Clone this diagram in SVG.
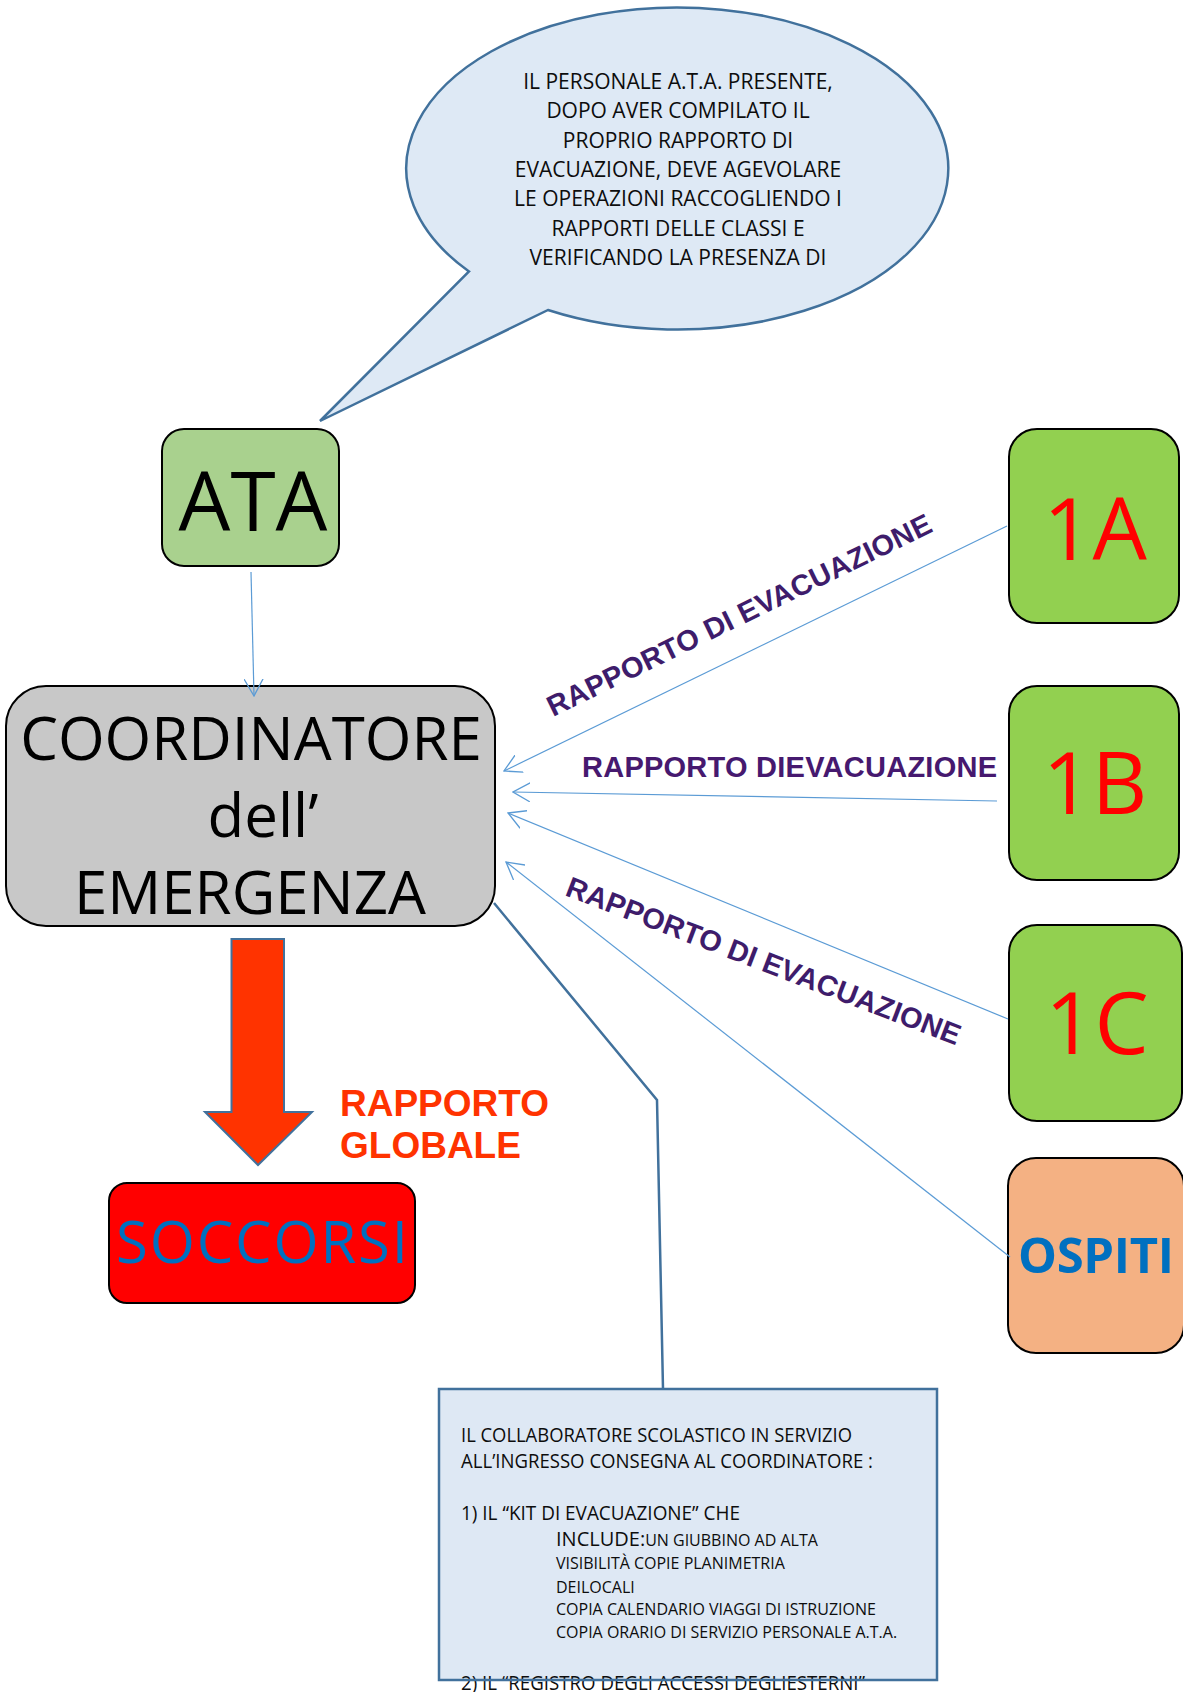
<svg xmlns="http://www.w3.org/2000/svg" width="1183" height="1692" viewBox="0 0 1183 1692">
<style>
.box{stroke:#000;stroke-width:2}
.cal{font-family:"Open Sans","Noto Sans",sans-serif}
.ari{font-family:"Liberation Sans",Arial,sans-serif;font-weight:bold}
.conn{fill:none;stroke:#5B9BD5;stroke-width:1.2;marker-end:url(#oa)}
.call{fill:none;stroke:#41719C;stroke-width:2.5}
.lbl{fill:#3E1C6B;font-size:29px}
</style>
<defs>
<marker id="oa" viewBox="0 0 18 20" refX="17" refY="10" markerWidth="18" markerHeight="20" markerUnits="userSpaceOnUse" orient="auto">
<path d="M0,0.5 L17,10 L0,19.5" fill="none" stroke="#5B9BD5" stroke-width="1.3"/>
</marker>
</defs>
<rect width="1183" height="1692" fill="#fff"/>

<g id="bubble">
<path d="M469,271.5 A271,161 0 1 1 548,310 L320,421 Z" fill="#DEE9F5" stroke="#41719C" stroke-width="2.5" stroke-linejoin="miter"/>
<g class="cal" font-size="21" fill="#0D0D0D" text-anchor="middle">
<text x="678" y="89">IL PERSONALE A.T.A. PRESENTE,</text>
<text x="678" y="118.3">DOPO AVER COMPILATO IL</text>
<text x="678" y="147.7">PROPRIO RAPPORTO DI</text>
<text x="678" y="177">EVACUAZIONE, DEVE AGEVOLARE</text>
<text x="678" y="206.3">LE OPERAZIONI RACCOGLIENDO I</text>
<text x="678" y="235.7">RAPPORTI DELLE CLASSI E</text>
<text x="678" y="265">VERIFICANDO LA PRESENZA DI</text>
</g>
</g>

<g id="ata">
<rect class="box" x="162" y="429" width="177" height="137" rx="22" fill="#A9D18E"/>
<text class="cal" x="253" y="531" font-size="82" text-anchor="middle" fill="#000">ATA</text>
</g>

<g id="coordinatore">
<rect class="box" x="6" y="686" width="489" height="240" rx="40" fill="#C8C8C8"/>
<g class="cal" font-size="60" fill="#000" text-anchor="middle">
<text x="251" y="760">COORDINATORE</text>
<text x="263" y="837">dell’</text>
<text x="250" y="914">EMERGENZA</text>
</g>
</g>

<g id="n1A">
<rect class="box" x="1009" y="429" width="170" height="194" rx="28" fill="#92D050"/>
<text class="cal" x="1095" y="560" font-size="86" text-anchor="middle" fill="#FF0000">1A</text>
</g>
<g id="n1B">
<rect class="box" x="1009" y="686" width="170" height="194" rx="28" fill="#92D050"/>
<text class="cal" x="1095" y="814" font-size="86" text-anchor="middle" fill="#FF0000">1B</text>
</g>
<g id="n1C">
<rect class="box" x="1009" y="925" width="173" height="196" rx="28" fill="#92D050"/>
<text class="cal" x="1097" y="1054" font-size="86" text-anchor="middle" fill="#FF0000">1C</text>
</g>
<g id="ospiti">
<rect class="box" x="1008" y="1158" width="176" height="195" rx="28" fill="#F4B183"/>
<text class="cal" x="1096" y="1273" font-size="49" font-weight="bold" text-anchor="middle" fill="#0070C0" textLength="156">OSPITI</text>
</g>

<g id="soccorsi">
<rect class="box" x="109" y="1183" width="306" height="120" rx="18" fill="#FF0000"/>
<text class="cal" x="262" y="1263" font-size="58" text-anchor="middle" fill="#0070C0" textLength="292">SOCCORSI</text>
</g>

<g id="freccia-rapporto-globale">
<path d="M231.5,939 L284,939 L284,1112 L312,1112 L258,1165 L205,1112 L231.5,1112 Z" fill="#FF3300" stroke="#41719C" stroke-width="2"/>
<g class="ari" font-size="37" fill="#FF3300">
<text x="340" y="1116">RAPPORTO</text>
<text x="340" y="1158">GLOBALE</text>
</g>
</g>

<g id="collaboratore">
<rect x="439" y="1389" width="498" height="291" fill="#DEE8F4"/>
<g class="cal" fill="#0D0D0D">
<text x="461" y="1442" font-size="20" textLength="391" lengthAdjust="spacingAndGlyphs">IL COLLABORATORE SCOLASTICO IN SERVIZIO</text>
<text x="461" y="1468" font-size="20" textLength="412" lengthAdjust="spacingAndGlyphs">ALL’INGRESSO CONSEGNA AL COORDINATORE :</text>
<text x="461" y="1520" font-size="20" textLength="279" lengthAdjust="spacingAndGlyphs">1) IL “KIT DI EVACUAZIONE” CHE</text>
<text x="556" y="1546" font-size="20">INCLUDE:<tspan font-size="16">UN GIUBBINO AD ALTA</tspan></text>
<text x="556" y="1569" font-size="16">VISIBILITÀ COPIE PLANIMETRIA</text>
<text x="556" y="1593" font-size="16">DEILOCALI</text>
<text x="556" y="1615" font-size="16">COPIA CALENDARIO VIAGGI DI ISTRUZIONE</text>
<text x="556" y="1638" font-size="16">COPIA ORARIO DI SERVIZIO PERSONALE A.T.A.</text>
<text x="461" y="1690" font-size="20" textLength="404" lengthAdjust="spacingAndGlyphs">2) IL “REGISTRO DEGLI ACCESSI DEGLIESTERNI”</text>
</g>
<rect x="439" y="1389" width="498" height="291" fill="none" stroke="#41719C" stroke-width="2.5"/>
</g>

<g id="connectors">
<path class="conn" d="M251,572 L254,696"/>
<path class="conn" d="M1007,526 L504,771"/>
<path class="conn" d="M997,801 L513,792"/>
<path class="conn" d="M1008,1019 L508,813"/>
<path class="conn" d="M1010,1257 L506,862"/>
<path class="call" d="M494,903 L657,1100 L663,1389"/>
<g class="ari lbl">
<text transform="translate(553,717) rotate(-26)" textLength="424">RAPPORTO DI EVACUAZIONE</text>
<text transform="translate(564,895) rotate(21)" textLength="420">RAPPORTO DI EVACUAZIONE</text>
</g>
<text class="ari" x="582" y="777" font-size="29" fill="#46196F" textLength="415">RAPPORTO DIEVACUAZIONE</text>
</g>
</svg>
